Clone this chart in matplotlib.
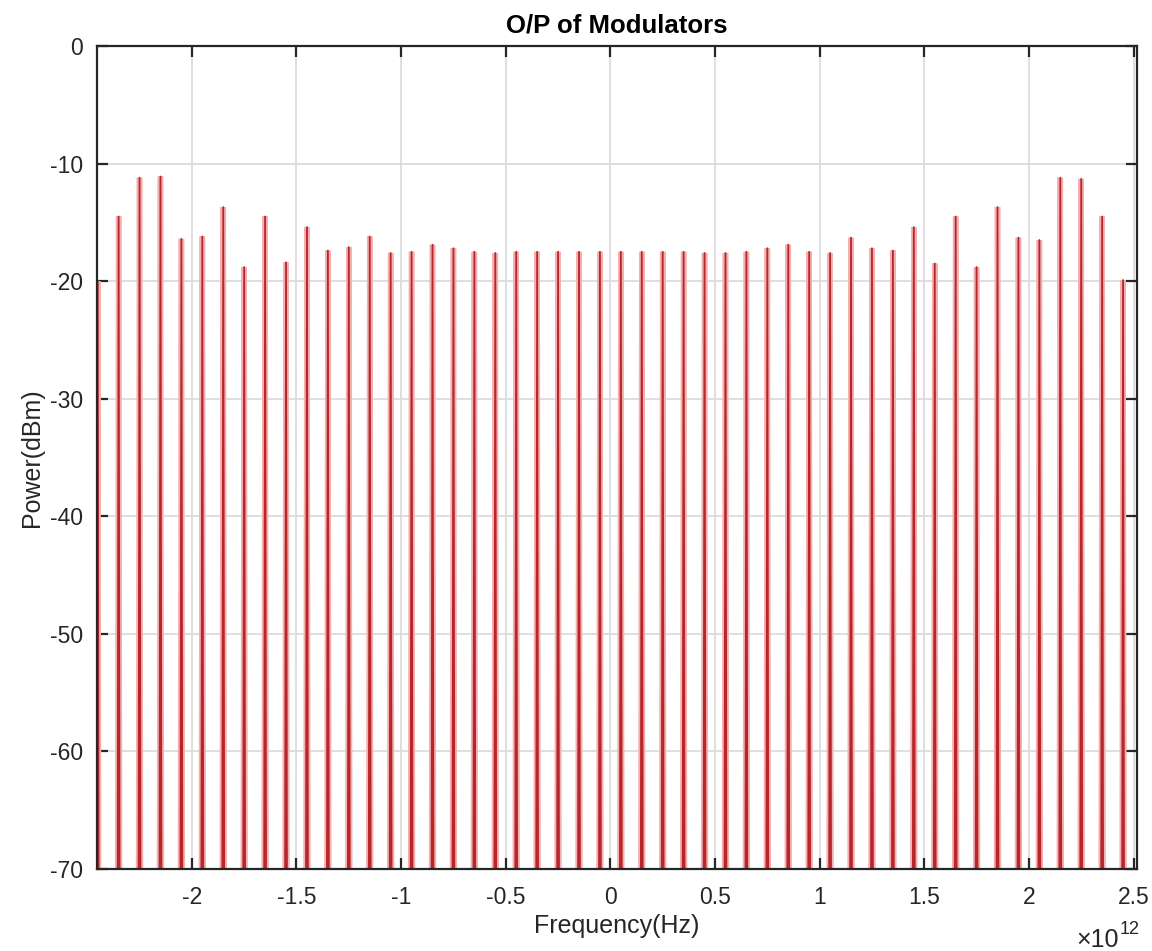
import numpy as np
import matplotlib
matplotlib.use("Agg")
import matplotlib.pyplot as plt
from matplotlib.ticker import FuncFormatter, MultipleLocator

plt.rcParams['font.family'] = ['Liberation Sans', 'DejaVu Sans']
plt.rcParams['axes.unicode_minus'] = False
plt.rcParams['mathtext.fontset'] = 'custom'
plt.rcParams['mathtext.rm'] = 'Liberation Sans'

# comb line frequencies (Hz) and their peak power (dBm)
freqs = np.round(np.arange(-2.45, 2.46, 0.1), 2) * 1e12
peak_dbm = [-20.0, -14.5, -11.2, -11.1, -16.4, -16.2, -13.7, -18.8, -14.5, -18.4,
            -15.4, -17.4, -17.1, -16.2, -17.6, -17.5, -16.9, -17.2, -17.5, -17.6,
            -17.5, -17.5, -17.5, -17.5, -17.5, -17.5, -17.5, -17.5, -17.5, -17.6,
            -17.6, -17.5, -17.2, -16.9, -17.5, -17.6, -16.3, -17.2, -17.4, -15.4,
            -18.5, -14.5, -18.8, -13.7, -16.3, -16.5, -11.2, -11.3, -14.5, -19.9]
floor_dbm = -90.0
half_width = 0.006e12

# build one continuous spectrum trace: floor -> peak -> floor for every line
xs, ys = [], []
for f, p in zip(freqs, peak_dbm):
    xs += [f - half_width, f, f + half_width]
    ys += [floor_dbm, p, floor_dbm]

fig = plt.figure(figsize=(11.52, 9.51), dpi=100)
ax = fig.add_axes([0.0839, 0.0862, 0.9028, 0.8654])

ax.plot(xs, ys, color='#f4b0b0', lw=4.0, solid_joinstyle='miter')
ax.plot(xs, ys, color='#b8262b', lw=1.3)

ax.set_xlim(-2.455e12, 2.515e12)
ax.set_ylim(-70, 0)
ax.xaxis.set_major_locator(MultipleLocator(0.5e12))
ax.yaxis.set_major_locator(MultipleLocator(10))
ax.xaxis.set_major_formatter(FuncFormatter(lambda v, pos: '%g' % round(v / 1e12, 2)))

ax.grid(True, color='#dcdcdc', lw=1.3)
ax.set_axisbelow(True)
for s in ax.spines.values():
    s.set_color('#262626')
    s.set_linewidth(1.6)
ax.tick_params(direction='in', length=8, width=1.6, color='#262626',
               labelsize=16.5, labelcolor='#262626', top=True, right=True)
ax.tick_params(axis='x', pad=12)
ax.tick_params(axis='y', pad=10)

ax.set_title('O/P of Modulators', fontsize=18.5, fontweight='bold', pad=10)
ax.set_xlabel('Frequency(Hz)', fontsize=18, color='#262626', labelpad=4)
ax.set_ylabel('Power(dBm)', fontsize=18, color='#262626', labelpad=4)

# exponent label under the right end of the x axis
ax.text(0.983, -0.086, '\u00d710', transform=ax.transAxes, ha='right', va='center',
        fontsize=18, color='#262626')
ax.text(0.984, -0.073, '12', transform=ax.transAxes, ha='left', va='center',
        fontsize=13, color='#262626')

fig.savefig('out.png', dpi=100)
